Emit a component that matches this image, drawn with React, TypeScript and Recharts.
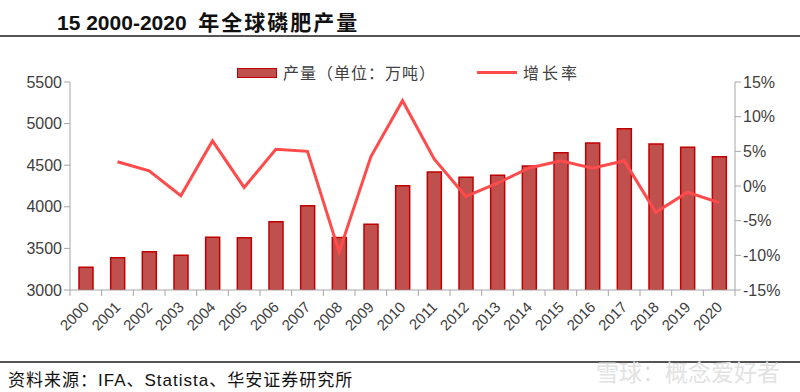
import { ComposedChart, Bar, Line, XAxis, YAxis } from 'recharts';

const years = ['2000', '2001', '2002', '2003', '2004', '2005', '2006', '2007', '2008', '2009', '2010',
  '2011', '2012', '2013', '2014', '2015', '2016', '2017', '2018', '2019', '2020'];
const production = [3273, 3388, 3460, 3417, 3633, 3629, 3821, 4013, 3630, 3790, 4254,
  4418, 4354, 4378, 4490, 4650, 4767, 4939, 4755, 4715, 4603];
const growth: (number | null)[] = [null, 3.5, 2.2, -1.4, 6.5, -0.2, 5.3, 5.0, -9.5, 4.2, 12.3,
  3.9, -1.5, 0.4, 2.6, 3.65, 2.55, 3.65, -3.8, -0.9, -2.4];
const leftTicks = [3000, 3500, 4000, 4500, 5000, 5500];
const rightTicks = [-15, -10, -5, 0, 5, 10, 15];

const data = years.map((year, i) => ({ year, production: production[i], growth: growth[i] }));

const W = 800;
const H = 392;
const PLOT_LEFT = 70;
const PLOT_RIGHT = 735;
const BAND = (PLOT_RIGHT - PLOT_LEFT) / years.length;
const AXIS = '#A6A6A6';
const TEXT = '#404040';
const CJK = '"Noto Sans CJK SC", "Liberation Sans", sans-serif';
const LATIN = '"Liberation Sans", Arial, "Noto Sans CJK SC", sans-serif';

const YearTick = (props: any) => {
  const { x, y, payload, index } = props;
  const axisY = y - 8;
  const half = BAND / 2;
  const tx = x + 4;
  const ty = y + 10;
  return (
    <g>
      <line x1={x - half} y1={axisY} x2={x - half} y2={axisY + 6} stroke={AXIS} />
      {index === years.length - 1 && (
        <line x1={x + half} y1={axisY} x2={x + half} y2={axisY + 6} stroke={AXIS} />
      )}
      <text
        x={tx}
        y={ty}
        transform={`rotate(-45, ${tx}, ${ty})`}
        textAnchor="end"
        fontSize={15}
        fontFamily={LATIN}
        fill={TEXT}
      >
        {payload.value}
      </text>
    </g>
  );
};

export default function App() {
  return (
    <div style={{ position: 'fixed', left: 0, top: 0, width: W, height: H, background: '#fff', overflow: 'hidden' }}>
      <div style={{ position: 'absolute', left: 57, top: 6, fontFamily: LATIN, fontWeight: 700, fontSize: 21, color: '#111', whiteSpace: 'pre' }}>
        {'15 2000-2020  '}<span style={{ fontFamily: CJK, letterSpacing: 2 }}>年全球磷肥产量</span>
      </div>
      <div style={{ position: 'absolute', left: 0, top: 35, width: W, height: 2, background: '#555' }} />

      {/* legend */}
      <div style={{ position: 'absolute', left: 0, top: 62, width: W, height: 20, fontFamily: CJK, fontSize: 16, color: TEXT }}>
        <div style={{ position: 'absolute', left: 237, top: 6, width: 38, height: 8, background: '#C0504D', border: '1px solid #C00000' }} />
        <span style={{ position: 'absolute', left: 283, top: -2, letterSpacing: 1 }}>产量（单位：万吨）</span>
        <div style={{ position: 'absolute', left: 477, top: 9, width: 40, height: 3, background: '#FF4B4B' }} />
        <span style={{ position: 'absolute', left: 523, top: -2, letterSpacing: 3 }}>增长率</span>
      </div>

      <div style={{ position: 'absolute', left: 0, top: 0 }}>
        <ComposedChart
          width={W}
          height={345}
          data={data}
          barCategoryGap={0}
          margin={{ top: 82, right: 0, bottom: 0, left: 0 }}
        >
          <XAxis
            dataKey="year"
            interval={0}
            height={55}
            tickLine={false}
            axisLine={{ stroke: AXIS }}
            tick={<YearTick />}
          />
          <YAxis
            yAxisId="left"
            width={PLOT_LEFT}
            domain={[3000, 5500]}
            ticks={leftTicks}
            tickSize={6}
            tickLine={{ stroke: AXIS }}
            axisLine={{ stroke: AXIS }}
            tick={{ fill: TEXT, fontSize: 16, fontFamily: LATIN }}
            allowDataOverflow
          />
          <YAxis
            yAxisId="right"
            orientation="right"
            width={W - PLOT_RIGHT}
            domain={[-15, 15]}
            ticks={rightTicks}
            tickSize={6}
            tickLine={{ stroke: AXIS }}
            axisLine={{ stroke: AXIS }}
            tick={{ fill: TEXT, fontSize: 16, fontFamily: LATIN }}
            tickFormatter={(v: number) => `${v}%`}
          />
          <Bar
            yAxisId="left"
            dataKey="production"
            barSize={14}
            fill="#C0504D"
            stroke="#C00000"
            strokeWidth={1.5}
            isAnimationActive={false}
          />
          <Line
            yAxisId="right"
            dataKey="growth"
            type="linear"
            stroke="#FF4B4B"
            strokeWidth={3}
            dot={false}
            isAnimationActive={false}
          />
        </ComposedChart>
      </div>

      <div style={{ position: 'absolute', left: 0, top: 361, width: W, height: 2, background: '#555' }} />
      <div style={{ position: 'absolute', left: 8, top: 366, fontFamily: LATIN, fontSize: 17, letterSpacing: 1, color: '#111' }}>
        资料来源：IFA、Statista、华安证券研究所
      </div>
      <div style={{ position: 'absolute', left: 596, top: 354, fontFamily: CJK, fontSize: 23, color: '#E2E2E2' }}>
        雪球：概念爱好者
      </div>
    </div>
  );
}
